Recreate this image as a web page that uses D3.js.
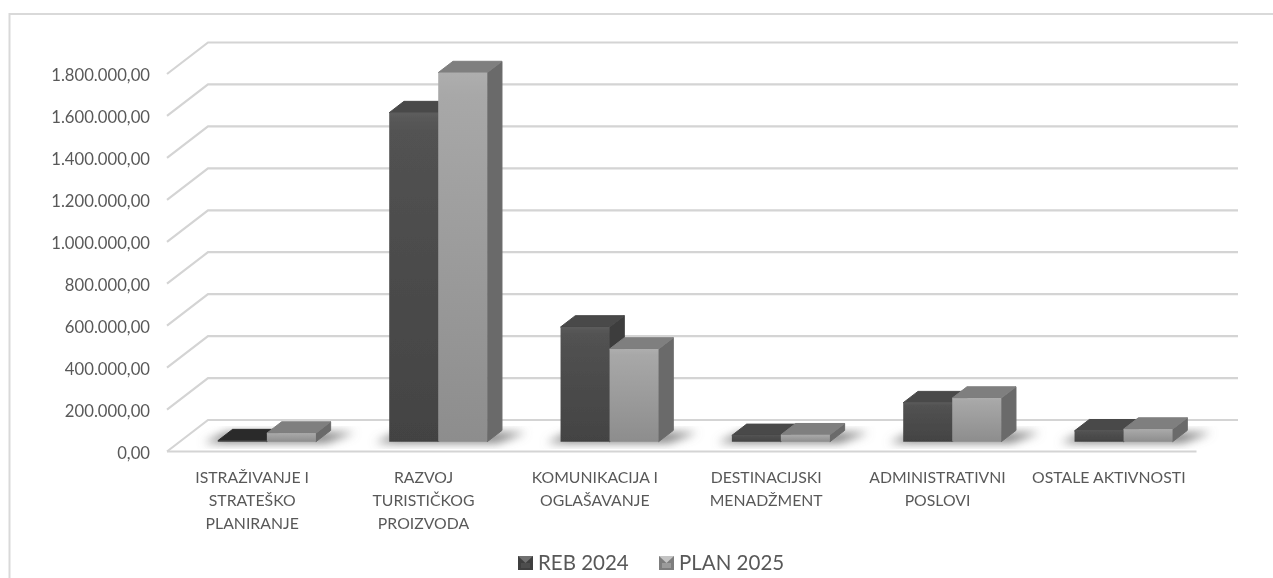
<!DOCTYPE html>
<html>
<head>
<meta charset="utf-8">
<script src="https://cdn.jsdelivr.net/npm/d3@7"></script>
<style>
  html, body { margin: 0; background: #fff; }
  text { font-family: Lato, "Open Sans", sans-serif; fill: #595959; }
</style>
</head>
<body>
<svg id="grafico" width="1273" height="578"></svg>
<script>
const categorias = [
  ["ISTRAŽIVANJE I", "STRATEŠKO", "PLANIRANJE"],
  ["RAZVOJ", "TURISTIČKOG", "PROIZVODA"],
  ["KOMUNIKACIJA I", "OGLAŠAVANJE"],
  ["DESTINACIJSKI", "MENADŽMENT"],
  ["ADMINISTRATIVNI", "POSLOVI"],
  ["OSTALE AKTIVNOSTI"]
];
const series = ["REB 2024", "PLAN 2025"];
const reb2024 = [5000, 1569000, 547000, 30000, 186000, 52000];
const plan2025 = [41000, 1760000, 442000, 33000, 208000, 60000];
const ticks = [0, 200000, 400000, 600000, 800000, 1000000, 1200000, 1400000, 1600000, 1800000];

const svg = d3.select("#grafico");
const defs = svg.append("defs");

// pseudo 3D: o fundo do grafico desloca em x e y
const fundoX = 41, fundoY = -31.5;
const baseBarra = 0.31, profBarra = 0.36;

const y = d3.scaleLinear().domain([0, 1800000]).range([451.5, 74]);
const x = d3.scaleBand().domain(d3.range(categorias.length)).range([168.5, 1196.5]);
const xSerie = d3.scaleBand().domain(series).range([0, 98]);
const margemCat = (x.bandwidth() - 98) / 2;

const formato = (v) => d3.format(",.2f")(v).replace(/,/g, "#").replace(".", ",").replace(/#/g, ".");

function gradiente(id, c1, c2, c3) {
  const g = defs.append("linearGradient").attr("id", id).attr("x1", 0).attr("x2", 0).attr("y1", 0).attr("y2", 1);
  g.append("stop").attr("offset", "0%").attr("stop-color", c1);
  g.append("stop").attr("offset", "6%").attr("stop-color", c2);
  g.append("stop").attr("offset", "100%").attr("stop-color", c3);
}
gradiente("frenteReb", "#5c5c5c", "#525252", "#434343");
gradiente("frentePlan", "#aeaeae", "#a8a8a8", "#8d8d8d");

defs.append("filter").attr("id", "sombra").attr("x", "-20%").attr("y", "-60%").attr("width", "140%").attr("height", "220%")
  .append("feGaussianBlur").attr("stdDeviation", 5);
defs.append("filter").attr("id", "suave")
  .append("feGaussianBlur").attr("stdDeviation", 0.6);
defs.append("filter").attr("id", "texto")
  .append("feGaussianBlur").attr("stdDeviation", 0.3);

// moldura
svg.append("path")
  .attr("d", "M9.5,578V14H1273")
  .attr("fill", "none").attr("stroke", "#d9d9d9").attr("stroke-width", 2);

// grade
const grade = svg.append("g").attr("fill", "none").attr("stroke", "#d4d4d4").attr("stroke-width", 2.2).attr("filter", "url(#suave)");
grade.selectAll("path").data(ticks).join("path")
  .attr("d", (t) => `M${x.range()[0] - 1.5},${y(t)}L${x.range()[0] - 1.5 + fundoX},${y(t) + fundoY}H1238`);
grade.append("path")
  .attr("d", `M${x.range()[0] - 1.5},${y(0)}H${x.range()[1]}`);

// rotulos do eixo y
svg.append("g").attr("filter", "url(#texto)").selectAll("text").data(ticks).join("text")
  .attr("x", 150).attr("y", (t) => y(t) + 7)
  .attr("text-anchor", "end").attr("font-size", 16.7)
  .text(formato);

// barras
const barras = categorias.map((c, i) => series.map((s, j) => ({
  i, j,
  valor: (j === 0 ? reb2024 : plan2025)[i],
  x0: x(i) + margemCat + xSerie(s) + baseBarra * fundoX,
  largura: xSerie.bandwidth(),
  base: y(0) + baseBarra * fundoY
}))).flat();

const dx = profBarra * fundoX, dy = profBarra * fundoY;
const alturaPx = (v) => y(0) - y(v);

// sombras no chao
svg.append("g").attr("filter", "url(#sombra)").selectAll("path")
  .data(d3.range(categorias.length)).join("path")
  .attr("d", (i) => {
    const x0 = x(i) + margemCat + baseBarra * fundoX, b = y(0) + baseBarra * fundoY;
    return `M${x0 - 14},${b + 1}H${x0 + 98 + 10}L${x0 + 98 + dx + 24},${b + dy + 2}H${x0 + dx - 6}Z`;
  })
  .attr("fill", "#7d7d7d");

const gb = svg.append("g").attr("filter", "url(#suave)");
const corTopo = ["#484848", "#7f7f7f"];
const corLado = ["#3c3c3c", "#6b6b6b"];
const corFrente = ["url(#frenteReb)", "url(#frentePlan)"];

barras.forEach((d) => {
  const h = alturaPx(d.valor), t = d.base - h, x1 = d.x0 + d.largura;
  const g = gb.append("g").attr("stroke-linejoin", "round");
  const topo = h < 3 ? "#2b2b2b" : corTopo[d.j];
  g.append("path").attr("d", `M${x1},${d.base}L${x1 + dx},${d.base + dy}V${t + dy}L${x1},${t}Z`)
    .attr("fill", corLado[d.j]).attr("stroke", corLado[d.j]).attr("stroke-width", 1);
  g.append("path").attr("d", `M${d.x0},${t}L${d.x0 + dx},${t + dy}H${x1 + dx}L${x1},${t}Z`)
    .attr("fill", topo).attr("stroke", topo).attr("stroke-width", 1);
  g.append("rect").attr("x", d.x0).attr("y", t).attr("width", d.largura).attr("height", h)
    .attr("fill", corFrente[d.j]);
});

// rotulos das categorias
const rotulos = svg.append("g").attr("text-anchor", "middle").attr("font-size", 15.8).attr("filter", "url(#texto)");
categorias.forEach((linhas, i) => {
  linhas.forEach((l, k) => {
    rotulos.append("text")
      .attr("x", x(i) + x.bandwidth() / 2 - 2)
      .attr("y", 482.5 + k * 23)
      .text(l);
  });
});

// legenda
const legenda = svg.append("g");
const xLegenda = [518, 659];
const corLegenda = [["#3f3f3f", "#707070", "#4d4d4d"], ["#7d7d7d", "#c4c4c4", "#9a9a9a"]];
series.forEach((s, j) => {
  const lx = xLegenda[j];
  legenda.append("rect").attr("x", lx).attr("y", 556).attr("width", 15).attr("height", 14).attr("fill", corLegenda[j][0]);
  legenda.append("path").attr("d", `M${lx},556H${lx + 15}L${lx + 7.5},563Z`).attr("fill", corLegenda[j][1]);
  legenda.append("rect").attr("x", lx + 3).attr("y", 563).attr("width", 9).attr("height", 5).attr("fill", corLegenda[j][2]);
  legenda.append("text").attr("x", lx + 20).attr("y", 570).attr("font-size", 20.5).attr("filter", "url(#texto)").text(s);
});
</script>
</body>
</html>
